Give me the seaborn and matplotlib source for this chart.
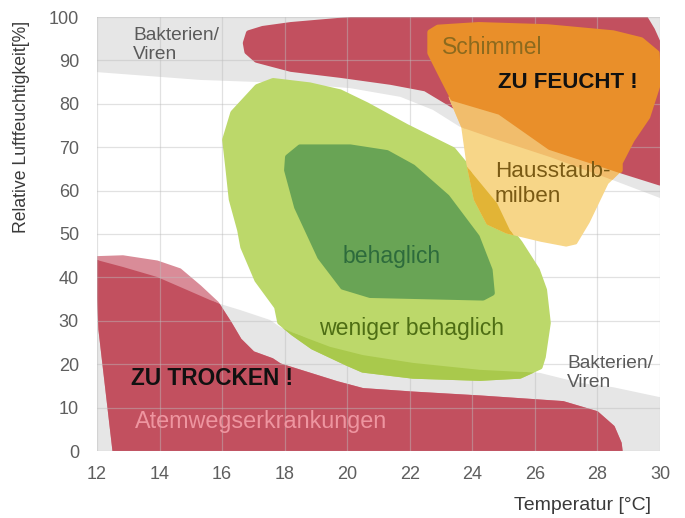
import matplotlib
matplotlib.use("Agg")
import matplotlib.pyplot as plt
import seaborn as sns

# --- Bereiche (Temperatur [°C], rel. Luftfeuchte [%]) ---
grau_oben_x = [12, 12, 15.3, 18, 20.1, 21.7, 22.74, 23.6, 24.8, 26.5, 28.5, 30, 30]
grau_oben_y = [100, 87.3, 85.5, 84.8, 83.6, 81.6, 78.6, 74.7, 71.7, 67.7, 62.4, 58.3, 100]

grau_unten_x = [12, 12, 12.83, 13.92, 14.88, 15.61, 15.84, 16.57, 17.53, 17.85, 18.27, 19.45, 20.5,
                22.1, 24.24, 26.16, 27.44, 28.5, 30, 30]
grau_unten_y = [0, 44, 42.4, 40.1, 37.1, 34.8, 34.1, 32.5, 30.2, 28.6, 27.2, 24.0, 22.1,
                20.3, 18.7, 18.0, 15.7, 14.7, 12.4, 0]

rot_oben_x = [16.75, 16.85, 17.3, 18.2, 19.8, 21.4, 29.5, 29.75, 30, 30, 28.72, 28, 26, 24, 22.5, 21.4,
              19.8, 18.2, 17.1, 16.8]
rot_oben_y = [94, 96.3, 97.3, 98.2, 99.2, 100, 100, 97, 93, 61.8, 64.7, 66.5, 70, 77, 83.5, 85,
              86.6, 88, 90.1, 92]

rot_unten_x = [12, 12.83, 13.92, 14.65, 15.29, 15.84, 16.25, 16.57, 16.99, 17.6, 17.85, 19.67, 20.5,
               22.1, 24.25, 26.9, 27.98, 28.5, 28.72, 28.75, 12.55, 12.1]
rot_unten_y = [44.5, 44.7, 43.5, 41.7, 37.8, 34.1, 29.5, 25.6, 22.6, 21, 19.8, 15.7, 14.1,
               13.3, 12.4, 11.1, 8.8, 5.5, 1.8, 0, 0, 28]

hellgruen_x = [17.12, 17.63, 18.8, 19.77, 20.63, 21.9, 23.38, 23.92, 24.79, 25.2, 25.52, 26.07, 26.3,
               26.42, 26.26, 26.16, 25.52, 24.24, 22.1, 20.5, 19.99, 18.9, 18.27, 17.85, 17.75,
               17.12, 16.67, 16.57, 16.3, 16.19, 16.09, 16.35]
hellgruen_y = [83.9, 85.3, 84.3, 82.7, 79.7, 74.7, 69.4, 64.7, 57.1, 50.9, 47.9, 41.7, 37.1,
               29.5, 21.7, 19.4, 17.3, 16.8, 17.3, 18.7, 20.3, 24, 27.2, 29.7, 33.2,
               39.4, 47, 50.9, 58, 65.4, 71.7, 77.9]

dunkelgruen_x = [18.1, 18.49, 20.1, 21.27, 22.1, 23.19, 24.15, 24.56, 24.63, 24.34, 20.73, 19.86,
                 19.13, 18.39, 18.07]
dunkelgruen_y = [67.7, 70, 70, 68.7, 65.4, 58.5, 49.3, 41.7, 36.4, 35.3, 35.9, 37.8,
                 44.7, 56.2, 64.7]

milben_x = [23.3, 23.7, 23.86, 24.1, 24.5, 25.1, 26.2, 27.0, 27.3, 27.7, 28.3, 28.72, 28.5, 26, 24]
milben_y = [81.5, 74.7, 66.4, 58, 52.5, 50.5, 48.6, 47.5, 48, 52.8, 61.8, 64.7, 70, 78, 82]

schimmel_x = [22.65, 22.9, 24.2, 26.4, 28.5, 29.4, 29.9, 29.95, 29.6, 29.1, 28.72, 28.72, 26.48,
              24.88, 23.38, 22.97, 22.65]
schimmel_y = [96.5, 97.6, 98.2, 97.7, 96.3, 94.7, 91.7, 84.8, 77, 71.7, 66.4, 64.7, 70,
              78.1, 81.3, 87.1, 91.7]

x_ticks = [12, 14, 16, 18, 20, 22, 24, 26, 28, 30]
y_ticks = [0, 10, 20, 30, 40, 50, 60, 70, 80, 90, 100]

sns.set_theme(style="white")
plt.rcParams['font.family'] = ['Liberation Sans', 'DejaVu Sans']

fig = plt.figure(figsize=(6.85, 5.18), dpi=100)
ax = fig.add_axes([97 / 685, 1 - 451 / 518, 563 / 685, 434 / 518])


def flaeche(x, y, farbe, z, clip=None, rund=2.5):
    p = ax.fill(x, y, facecolor=farbe, edgecolor=farbe, lw=rund, joinstyle='round', zorder=z)[0]
    if clip is not None:
        p.set_clip_path(clip)
    return p


# graue Bänder (Bakterien/Viren)
g_oben = flaeche(grau_oben_x, grau_oben_y, '#e6e6e6', 1, rund=0)
g_unten = flaeche(grau_unten_x, grau_unten_y, '#e6e6e6', 1, rund=0)

# zu trocken / zu feucht
flaeche(rot_unten_x, rot_unten_y, '#d98c98', 2)
flaeche(rot_unten_x, rot_unten_y, '#c2505f', 2.1, clip=g_unten)
flaeche(rot_oben_x, rot_oben_y, '#c2505f', 2, rund=4)

# Behaglichkeit
gruen = flaeche(hellgruen_x, hellgruen_y, '#bcd86a', 3, rund=4)
flaeche(hellgruen_x, hellgruen_y, '#a9c94c', 3.1, clip=g_unten, rund=4)
flaeche(dunkelgruen_x, dunkelgruen_y, '#69a455', 4, rund=4)

# Hausstaubmilben und Schimmel
flaeche(milben_x, milben_y, '#f7d688', 5)
flaeche(milben_x, milben_y, '#f1bd6c', 5.1, clip=g_oben)
flaeche(milben_x, milben_y, '#e2b436', 5.2, clip=gruen)
flaeche(schimmel_x, schimmel_y, '#e98f2a', 6, rund=4)

ax.set_xlim(12, 30)
ax.set_ylim(0, 100)
ax.set_xticks(x_ticks)
ax.set_yticks(y_ticks)
ax.set_axisbelow(False)
ax.grid(True, color='#bdbdbd', alpha=0.45, lw=0.9, zorder=7)
sns.despine(ax=ax, left=True, bottom=True, top=True, right=True)
ax.tick_params(length=0, labelsize=13, labelcolor='#5e5e5e')
ax.tick_params(axis='x', pad=11)
ax.tick_params(axis='y', pad=13)

fig.text(22 / 685, 1 - 127 / 518, 'Relative Luftfeuchtigkeit[%]', rotation=90,
         ha='center', va='center', fontsize=12.7, color='#3a3a3a')
fig.text(583 / 685, 1 - 506 / 518, 'Temperatur [°C]', ha='center', va='center',
         fontsize=14, color='#3a3a3a')

txt = dict(zorder=8)
ax.text(13.15, 93.5, 'Bakterien/\nViren', ha='left', va='center', fontsize=13.8,
        color='#5a5a5a', linespacing=1.15, **txt)
ax.text(27.03, 18, 'Bakterien/\nViren', ha='left', va='center', fontsize=13.8,
        color='#5a5a5a', linespacing=1.15, **txt)
ax.text(24.63, 92.9, 'Schimmel', ha='center', va='center', fontsize=16.5, color='#8c6a1e', **txt)
ax.text(24.82, 85, 'ZU FEUCHT !', ha='left', va='center', fontsize=16, fontweight='bold',
        color='#111111', **txt)
ax.text(24.72, 61.5, 'Hausstaub-\nmilben', ha='left', va='center', fontsize=16.2,
        color='#7a5a14', linespacing=1.2, **txt)
ax.text(21.43, 44.9, 'behaglich', ha='center', va='center', fontsize=16.6, color='#2d6b3c', **txt)
ax.text(22.07, 28.3, 'weniger behaglich', ha='center', va='center', fontsize=16.6,
        color='#4e6e14', **txt)
ax.text(13.09, 16.8, 'ZU TROCKEN !', ha='left', va='center', fontsize=16.3, fontweight='bold',
        color='#111111', **txt)
ax.text(13.21, 6.9, 'Atemwegserkrankungen', ha='left', va='center', fontsize=16.8,
        color='#ee95a0', **txt)

fig.savefig('out.png', dpi=100)
